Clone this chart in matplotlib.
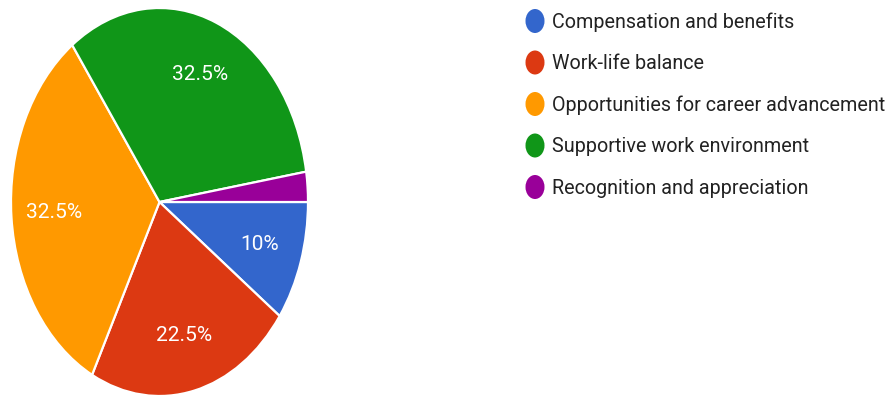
import matplotlib
matplotlib.use("Agg")
import matplotlib.pyplot as plt
from matplotlib.patches import Ellipse

categories = [
    "Compensation and benefits",
    "Work-life balance",
    "Opportunities for career advancement",
    "Supportive work environment",
    "Recognition and appreciation",
]
shares = [10.0, 22.5, 32.5, 32.5, 2.5]
colors = ["#3366cc", "#dc3912", "#ff9900", "#109618", "#990099"]

W, H = 889, 398
fig = plt.figure(figsize=(W / 100, H / 100), dpi=100)
fig.patch.set_facecolor("white")

# Pie area (stretched vertically, so aspect is left free)
left, right, top, bottom = 11, 308, 8, 396
ax = fig.add_axes([left / W, 1 - bottom / H, (right - left) / W, (bottom - top) / H])


def pct_label(p):
    return "" if p < 5 else f"{p:g}%"


wedges, _, autotexts = ax.pie(
    shares,
    colors=colors,
    startangle=0,
    counterclock=False,
    autopct=pct_label,
    pctdistance=0.71,
    wedgeprops=dict(edgecolor="white", linewidth=1.6),
    textprops=dict(color="white", fontsize=15, family="Roboto"),
)
ax.set_aspect("auto")
ax.set_xlim(-1.0, 1.0)
ax.set_ylim(-1.0, 1.0)
ax.axis("off")

# Legend drawn in pixel space
lax = fig.add_axes([0, 0, 1, 1])
lax.set_xlim(0, W)
lax.set_ylim(H, 0)
lax.axis("off")
row0, step = 21, 41.5
for i, (name, c) in enumerate(zip(categories, colors)):
    y = row0 + i * step
    lax.add_patch(Ellipse((535, y), 19, 24, facecolor=c, edgecolor="none"))
    lax.text(552, y + 1, name, ha="left", va="center", fontsize=14.2,
             family="Roboto", color="#222222")

fig.savefig("out.png", dpi=100, facecolor="white")
